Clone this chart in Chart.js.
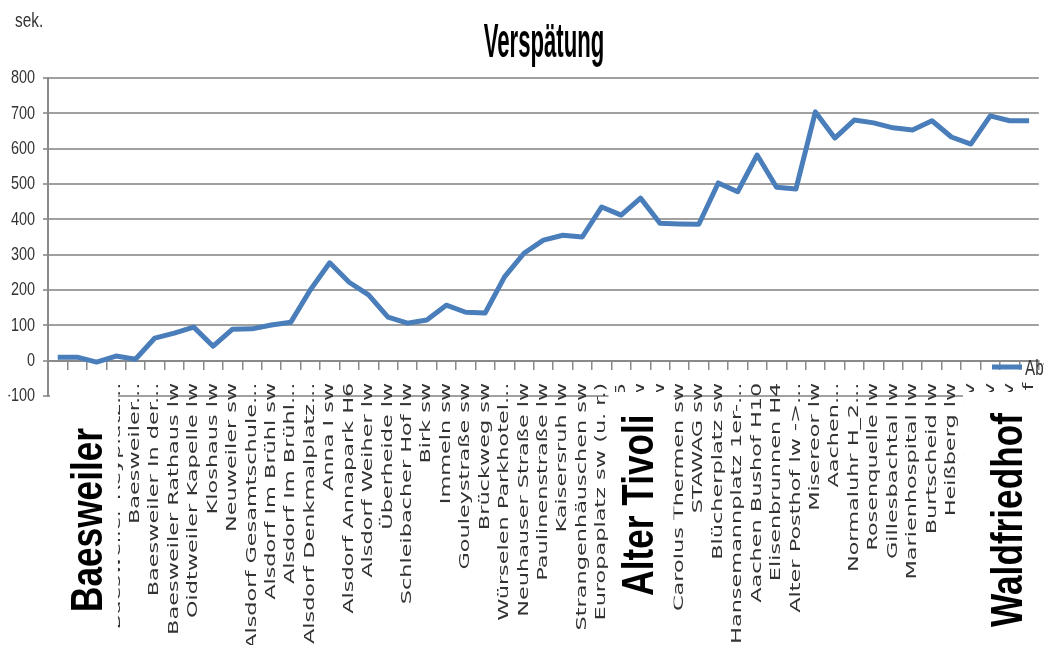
<!DOCTYPE html>
<html><head><meta charset="utf-8">
<script src="https://cdn.jsdelivr.net/npm/chart.js@4.4.1/dist/chart.umd.min.js"></script>
<style>
html,body{margin:0;padding:0;overflow:hidden;background:#fff;width:1044px;height:645px}
#wrap{position:relative;width:1060px;height:645px}
</style></head>
<body><div id="wrap"><canvas id="c"></canvas></div>
<script>
// ---------- data ----------
const chartTitle = "Verspätung";
const yUnit = "sek.";
const seriesName = "Abweichung";
const stops = [
  "Baesweiler Gewerbegebiet","Baesweiler Schulzentrum","Baesweiler Kirche","Baesweiler Reyplatz...",
  "Baesweiler...","Baesweiler In der...","Baesweiler Rathaus lw","Oidtweiler Kapelle lw",
  "Kloshaus lw","Neuweiler sw","Alsdorf Gesamtschule...","Alsdorf Im Brühl sw",
  "Alsdorf Im Brühl...","Alsdorf Denkmalplatz...","Anna I sw","Alsdorf Annapark H6",
  "Alsdorf Weiher lw","Überheide lw","Schleibacher Hof lw","Birk sw",
  "Immeln sw","Gouleystraße sw","Brückweg sw","Würselen Parkhotel...",
  "Neuhauser Straße lw","Paulinenstraße lw","Kaisersruh lw","Strangenhäuschen sw",
  "Europaplatz sw (u. r.)","Alter Tivoli H5","Talbotstraße lw","Passstraße lw",
  "Carolus Thermen sw","STAWAG sw","Blücherplatz sw","Hansemannplatz 1er-...",
  "Aachen Bushof H10","Elisenbrunnen H4","Alter Posthof lw ->...","Misereor lw",
  "Aachen...","Normaluhr H_2...","Rosenquelle lw","Gillesbachtal lw",
  "Marienhospital lw","Burtscheid lw","Heißberg lw","Siegel v",
  "Grüne Eiche v","Adenauerallee v","Waldfriedhof"
];
const delay = [
  10, 10, -4, 13, 4, 64, 78, 95, 41, 89,
  90, 101, 109, 200, 277, 222, 186, 123, 106, 115,
  157, 137, 135, 237, 304, 341, 355, 350, 435, 412,
  460, 389, 387, 386, 503, 478, 582, 491, 486, 704,
  630, 681, 673, 659, 653, 679, 633, 613, 693, 679,
  679
];
const yMin = -100, yMax = 800, yStep = 100;
const sectionNames = ["Baesweiler", "Alter Tivoli", "Waldfriedhof"];

// ---------- styling / layout ----------
const SANS = '"Liberation Sans", Arial, sans-serif';
const LINE_BLUE = '#4a7ebb';
const GRID = '#a0a0a0';
const AXIS = '#8a8a8a';
const TXT = '#333333';
const TICK_LEN = 8, TICK_PAD = 14, LABEL_STRETCH = 1.6;
const Y_TICK_LEN = 5, Y_PAD = 8;

const sectionLayout = [
  {baseIdx: 2.29, cy: 520, box: [-0.4, 3.1, 372]},
  {baseIdx: 30.65, cy: 505, box: [28.35, 31.7, 392]},
  {baseIdx: 49.64, cy: 520, box: [46.6, 53, 392]}
];

function narrowText(ctx, text, x, y, font, sx, sy, align, baseline, color) {
  ctx.save();
  ctx.translate(x, y);
  ctx.scale(sx, sy);
  ctx.font = font;
  ctx.fillStyle = color;
  ctx.textAlign = align;
  ctx.textBaseline = baseline;
  ctx.fillText(text, 0, 0);
  ctx.restore();
}

const overlay = {
  id: 'overlay',
  afterLayout(chart) {
    const xs = chart.scales.x;
    if (!xs._stretched) {
      const orig = xs.drawLabels;
      xs.drawLabels = function(area) {
        const ctx = this.ctx;
        const y0 = chart.scales.y.getPixelForValue(0) + TICK_LEN + TICK_PAD;
        ctx.save();
        ctx.translate(0, y0); ctx.scale(1, LABEL_STRETCH); ctx.translate(0, -y0);
        orig.call(this, area);
        ctx.restore();
      };
      xs._stretched = true;
    }
    const ys = chart.scales.y;
    if (!ys._narrowed) {
      const origY = ys.drawLabels;
      ys.drawLabels = function(area) {
        const ctx = this.ctx;
        const px = this.right - Y_TICK_LEN - Y_PAD;
        ctx.save();
        ctx.translate(px, 0); ctx.scale(0.76, 1); ctx.translate(-px, 0);
        origY.call(this, area);
        ctx.restore();
      };
      ys._narrowed = true;
    }
  },
  afterDraw(chart) {
    const {ctx, scales: {x}} = chart;
    ctx.save();
    // white cover boxes
    sectionLayout.forEach((s) => {
      const l = x.getPixelForValue(s.box[0]);
      const r = x.getPixelForValue(s.box[1]);
      ctx.fillStyle = '#fff';
      ctx.fillRect(l, s.box[2], r - l, chart.height - s.box[2]);
    });
    // section names (rotated, condensed)
    sectionLayout.forEach((s, i) => {
      ctx.save();
      ctx.translate(x.getPixelForValue(s.baseIdx), s.cy);
      ctx.rotate(-Math.PI / 2);
      narrowText(ctx, sectionNames[i], 0, 0, 'bold 44px ' + SANS, 0.8, 1, 'center', 'alphabetic', '#000');
      ctx.restore();
    });
    // title (tall condensed)
    narrowText(ctx, chartTitle, 544, 57, 'bold 27px ' + SANS, 0.82, 1.8, 'center', 'alphabetic', '#000');
    // unit
    narrowText(ctx, yUnit, 15, 27, '20px ' + SANS, 0.77, 1, 'left', 'alphabetic', TXT);
    // legend
    ctx.strokeStyle = LINE_BLUE;
    ctx.lineWidth = 5;
    ctx.beginPath(); ctx.moveTo(992, 367); ctx.lineTo(1022, 367); ctx.stroke();
    narrowText(ctx, seriesName, 1025, 375, '20px ' + SANS, 0.76, 1.1, 'left', 'alphabetic', TXT);
    ctx.restore();
  }
};

new Chart(document.getElementById('c'), {
  type: 'line',
  data: {
    labels: stops,
    datasets: [{
      label: seriesName,
      data: delay,
      borderColor: LINE_BLUE,
      backgroundColor: LINE_BLUE,
      borderWidth: 5,
      pointRadius: 0,
      tension: 0,
      borderJoinStyle: 'round',
      fill: false
    }]
  },
  options: {
    responsive: true,
    maintainAspectRatio: false,
    animation: false,
    layout: {padding: {left: 0, right: 10, top: 78, bottom: 249}},
    plugins: {legend: {display: false}, title: {display: false}, tooltip: {enabled: false}},
    scales: {
      x: {
        type: 'category',
        position: {y: 0},
        offset: true,
        grid: {display: true, drawOnChartArea: false, drawTicks: true, tickLength: TICK_LEN, offset: true, color: AXIS, lineWidth: 1.5},
        border: {display: true, color: AXIS, width: 2},
        ticks: {autoSkip: false, minRotation: 90, maxRotation: 90, padding: TICK_PAD,
                color: '#333333', font: {family: '"DejaVu Sans"', size: 14}}
      },
      y: {
        min: yMin, max: yMax,
        afterFit(s) { s.width = 48; },
        grid: {color: GRID, lineWidth: 2, drawTicks: true, tickLength: Y_TICK_LEN},
        border: {display: true, color: AXIS, width: 2},
        ticks: {stepSize: yStep, padding: Y_PAD, color: TXT, font: {family: SANS, size: 19}}
      }
    }
  },
  plugins: [overlay]
});
</script>
</body></html>
